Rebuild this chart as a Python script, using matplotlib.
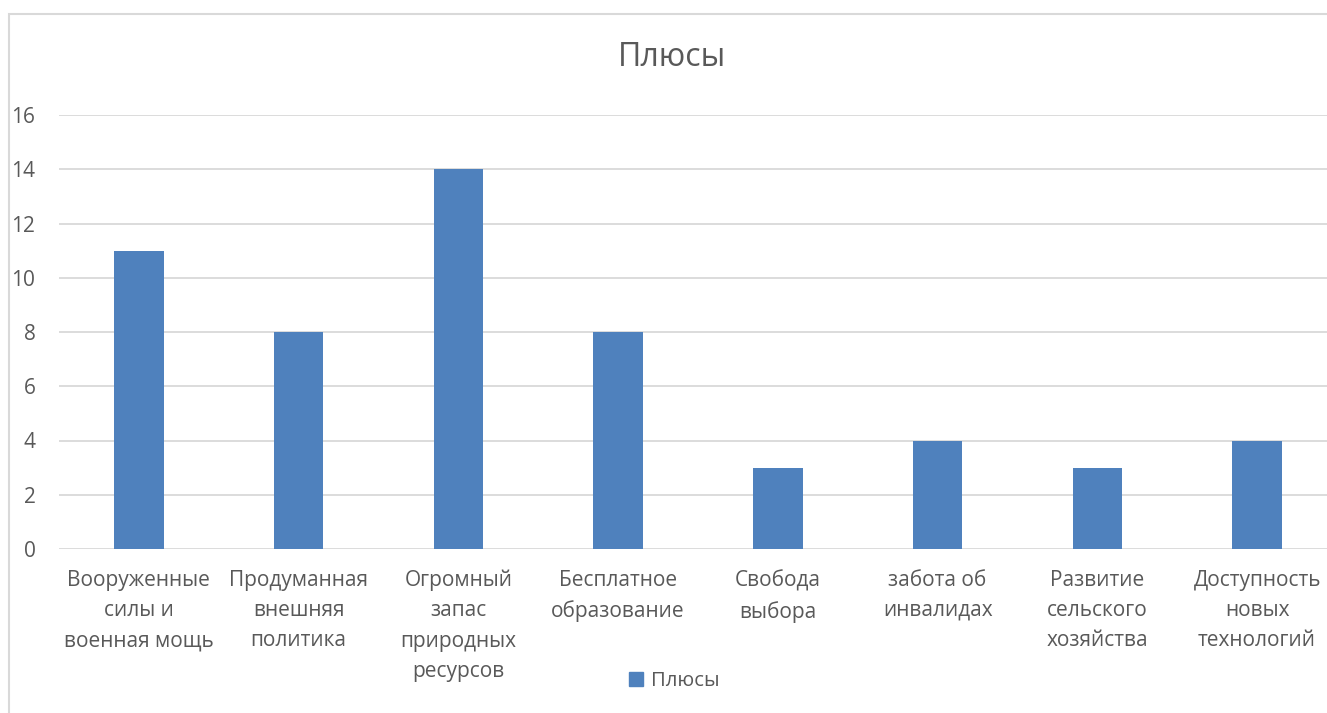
import matplotlib
matplotlib.use("Agg")
import matplotlib.pyplot as plt
from matplotlib.patches import Rectangle, Patch

categories = [
    "Вооруженные\nсилы и\nвоенная мощь",
    "Продуманная\nвнешняя\nполитика",
    "Огромный\nзапас\nприродных\nресурсов",
    "Бесплатное\nобразование",
    "Свобода\nвыбора",
    "забота об\nинвалидах",
    "Развитие\nсельского\nхозяйства",
    "Доступность\nновых\nтехнологий",
]
values = [11, 8, 14, 8, 3, 4, 3, 4]
series_name = "Плюсы"
yticks = [0, 2, 4, 6, 8, 10, 12, 14, 16]

plt.rcParams['font.family'] = ['Open Sans', 'DejaVu Sans']
text_color = "#595959"
grid_color = "#D9D9D9"
bar_color = "#4F81BD"

W, H = 1327, 713
fig = plt.figure(figsize=(W / 100, H / 100), dpi=100)

# chart frame
fig.patches.append(Rectangle((9 / W, -0.05), 1.0, 1.05 - 14 / H, transform=fig.transFigure,
                             fill=False, edgecolor=grid_color, linewidth=1.5))

left = 59 / W
right = 1337 / W
bottom = 1 - 549 / H
top = 1 - 115 / H
ax = fig.add_axes([left, bottom, right - left, top - bottom])

x = list(range(len(categories)))
ax.bar(x, values, width=0.31, color=bar_color, zorder=3)
ax.set_xlim(-0.5, len(categories) - 0.5)
ax.set_ylim(0, 16)
ax.set_yticks(yticks)
ax.set_yticklabels([str(t) for t in yticks], fontfamily=['Open Sans', 'DejaVu Sans'])
ax.set_xticks(x)
ax.set_xticklabels(categories, linespacing=1.57, va='top', fontfamily=['Open Sans', 'DejaVu Sans'])
ax.tick_params(axis='both', length=0, colors=text_color, labelsize=15)
ax.tick_params(axis='y', pad=17)
ax.tick_params(axis='x', pad=15)
ax.yaxis.grid(True, color=grid_color, linewidth=1.3, zorder=0)
for s in ax.spines.values():
    s.set_visible(False)

fig.text(672 / W, 1 - 58 / H, "Плюсы", ha='center', va='center', fontsize=23, color=text_color)

leg = fig.legend(handles=[Patch(color=bar_color, label=series_name)],
                 loc='center', bbox_to_anchor=(674 / W, 1 - 681 / H), frameon=False,
                 fontsize=14.6, handlelength=0.7, handleheight=0.7, handletextpad=0.4)
for t in leg.get_texts():
    t.set_color(text_color)

fig.savefig("out.png", dpi=100)
